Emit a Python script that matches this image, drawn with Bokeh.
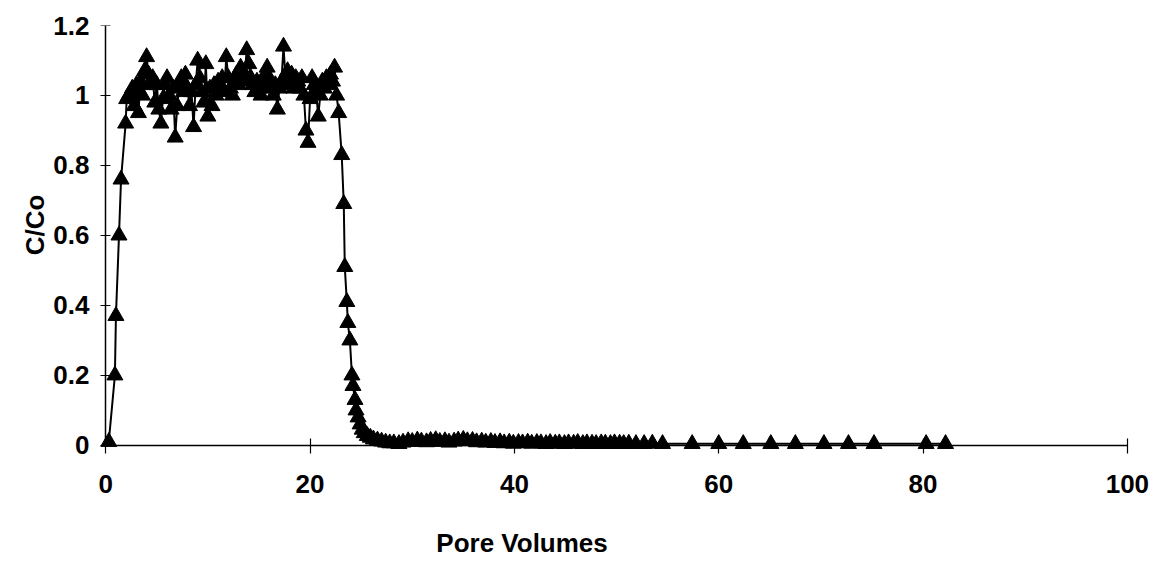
from bokeh.plotting import figure
from bokeh.models import (Range1d, FixedTicker, ColumnDataSource, NumeralTickFormatter,
                          CustomJSTickFormatter, LinearAxis)
from bokeh.embed import file_html
from bokeh.resources import INLINE

# ---- data ----
rise_x = [0.3, 0.9, 1.0, 1.3, 1.5, 1.95, 2.05, 2.25]
rise_y = [0.01, 0.20, 0.37, 0.60, 0.76, 0.92, 0.99, 1.00]

plateau_x = [2.4, 2.6, 2.8, 3.0, 3.2, 3.4, 3.6, 3.8, 4.0, 4.2,
             4.4, 4.6, 4.8, 5.0, 5.2, 5.4, 5.6, 5.8, 6.0, 6.2,
             6.4, 6.6, 6.8, 7.0, 7.2, 7.4, 7.6, 7.8, 8.0, 8.2,
             8.4, 8.6, 8.8, 9.0, 9.2, 9.4, 9.6, 9.8, 10.0, 10.2,
             10.4, 10.6, 10.8, 11.0, 11.2, 11.4, 11.6, 11.8, 12.0, 12.2,
             12.4, 12.6, 12.8, 13.0, 13.2, 13.4, 13.6, 13.8, 14.0, 14.2,
             14.4, 14.6, 14.8, 15.0, 15.2, 15.4, 15.6, 15.8, 16.0, 16.2,
             16.4, 16.6, 16.8, 17.0, 17.2, 17.4, 17.6, 17.8, 18.0, 18.2,
             18.4, 18.6, 18.8, 19.0, 19.2, 19.4, 19.6, 19.8, 20.0, 20.2,
             20.4, 20.6, 20.8, 21.0, 21.2, 21.4, 21.6, 21.8, 22.0, 22.2,
             22.4, 22.6, 22.8]
plateau_y = [1.00, 1.02, 0.97, 1.03, 0.95, 1.04, 1.00, 1.07, 1.11, 1.06,
             1.03, 1.05, 0.98, 1.03, 0.96, 0.92, 0.99, 1.03, 1.05, 1.00,
             0.96, 1.02, 0.88, 0.97, 1.03, 1.05, 1.01, 1.06, 1.02, 0.97,
             1.01, 0.91, 1.03, 1.10, 1.05, 1.01, 0.98, 1.09, 0.94, 1.02,
             0.97, 1.03, 1.00, 1.04, 1.02, 1.05, 1.01, 1.11, 1.05, 1.02,
             1.00, 1.04, 1.06, 1.03, 1.08, 1.04, 1.06, 1.13, 1.09, 1.05,
             1.03, 1.01, 1.04, 1.02, 1.00, 1.05, 1.03, 1.08, 1.05, 1.02,
             1.00, 1.03, 0.96, 1.02, 1.04, 1.14, 1.05, 1.07, 1.03, 1.06,
             1.02, 1.05, 1.04, 1.02, 1.05, 1.00, 0.90, 0.865, 0.99, 1.05,
             1.03, 1.01, 0.94, 1.00, 1.04, 1.02, 1.05, 1.03, 1.06, 1.04,
             1.08, 1.00, 0.95]

drop_x = [23.1, 23.3, 23.4, 23.6, 23.7, 23.9, 24.1, 24.2, 24.4, 24.5,
          24.7, 24.9, 25.1, 25.3, 25.6, 25.9, 26.2, 26.6, 27.0, 27.4, 27.8]
drop_y = [0.83, 0.69, 0.51, 0.41, 0.35, 0.30, 0.20, 0.17, 0.13, 0.10,
          0.08, 0.06, 0.045, 0.035, 0.027, 0.022, 0.017, 0.014, 0.011, 0.008, 0.006]

tail_x = [28.2, 28.7, 29.1, 29.6, 30.0, 30.5, 30.9, 31.4, 31.8, 32.3,
          32.7, 33.2, 33.6, 34.1, 34.5, 35.0, 35.4, 35.9, 36.3, 36.8,
          37.2, 37.7, 38.1, 38.6, 39.0, 39.5, 39.9, 40.4, 40.8, 41.3,
          41.7, 42.2, 42.6, 43.1, 43.5, 44.0, 44.4, 44.9, 45.3, 45.8,
          46.2, 46.7, 47.1, 47.6, 48.0, 48.5, 48.9, 49.4, 49.8, 50.3,
          50.7, 51.2, 51.9, 52.7, 53.5, 54.5]
tail_y = [0.006, 0.004, 0.008, 0.012, 0.010, 0.014, 0.011, 0.009, 0.013, 0.015,
          0.010, 0.012, 0.008, 0.011, 0.014, 0.016, 0.012, 0.013, 0.009, 0.011,
          0.008, 0.010, 0.007, 0.009, 0.006, 0.008, 0.005, 0.007, 0.006, 0.008,
          0.005, 0.007, 0.006, 0.004, 0.007, 0.005, 0.006, 0.004, 0.006, 0.005,
          0.007, 0.004, 0.006, 0.005, 0.004, 0.006, 0.005, 0.004, 0.006, 0.005,
          0.004, 0.005, 0.004, 0.004, 0.005, 0.004]

late_x = [57.4, 60.0, 62.4, 65.1, 67.5, 70.3, 72.7, 75.2, 80.3, 82.2]
late_y = [0.004, 0.004, 0.004, 0.004, 0.004, 0.004, 0.004, 0.004, 0.004, 0.004]

x_ticks = [0, 20, 40, 60, 80, 100]
y_ticks = [0, 0.2, 0.4, 0.6, 0.8, 1, 1.2]
x_tick_format = "0"
y_tick_format = "0.[0]"

x_title = "Pore Volumes"
y_title = "C/Co"
x_title_at = [40.75]   # where the x title is centred (the original sits left of centre)
y_title_at = [0.63]    # where the y title is centred

pore_volumes = rise_x + plateau_x + drop_x + tail_x + late_x
c_over_co = rise_y + plateau_y + drop_y + tail_y + late_y
src = ColumnDataSource(dict(x=pore_volumes, y=c_over_co))

FONT = "Liberation Sans"

p = figure(width=1150, height=560, output_backend="svg", toolbar_location=None,
           x_range=Range1d(-1, 100.5), y_range=Range1d(-0.035, 1.2),
           x_axis_location=None, y_axis_location=None,
           min_border_left=95, min_border_right=18, min_border_top=25,
           min_border_bottom=102)
p.outline_line_color = None
p.background_fill_color = "white"
p.border_fill_color = "white"
p.grid.visible = False

p.line("x", "y", source=src, line_color="black", line_width=2)
p.scatter("x", "y", source=src, marker="triangle", size=16,
          fill_color="black", line_color="black", line_width=1)


def label_axis(ticks, formatter, standoff):
    return LinearAxis(ticker=FixedTicker(ticks=ticks), formatter=formatter,
                      axis_line_color=None, major_tick_line_color=None,
                      minor_tick_line_color=None, major_tick_in=0, major_tick_out=0,
                      major_label_standoff=standoff,
                      major_label_text_font=FONT, major_label_text_font_size="26px",
                      major_label_text_font_style="bold",
                      major_label_text_color="black")


def line_axis(ticks, bounds, tin, tout):
    return LinearAxis(ticker=FixedTicker(ticks=ticks),
                      formatter=CustomJSTickFormatter(code="return ''"),
                      fixed_location=0, bounds=bounds,
                      axis_line_color="black", axis_line_width=1.5,
                      major_tick_line_color="black", major_tick_line_width=1.2,
                      minor_tick_line_color=None, major_tick_in=tin,
                      major_tick_out=tout, major_label_standoff=0)


xlab = label_axis(x_ticks, NumeralTickFormatter(format=x_tick_format), 17)
ylab = label_axis(y_ticks, NumeralTickFormatter(format=y_tick_format), 6)
p.add_layout(xlab, "below")
p.add_layout(ylab, "left")

p.add_layout(line_axis(x_ticks, (0, 100), 7, 8), "below")
p.add_layout(line_axis(y_ticks, (0, 1.2), 5, 5), "left")

# axis titles, each drawn as the single label of a bare axis so it can be placed freely
xtitle = label_axis(x_title_at,
                    CustomJSTickFormatter(args=dict(t=x_title), code="return t"), 32)
p.add_layout(xtitle, "below")
ytitle = label_axis(y_title_at,
                    CustomJSTickFormatter(args=dict(t=y_title), code="return t"), 0)
ytitle.major_label_orientation = "vertical"
p.add_layout(ytitle, "left")

open("out.html", "w").write(file_html(p, INLINE))
